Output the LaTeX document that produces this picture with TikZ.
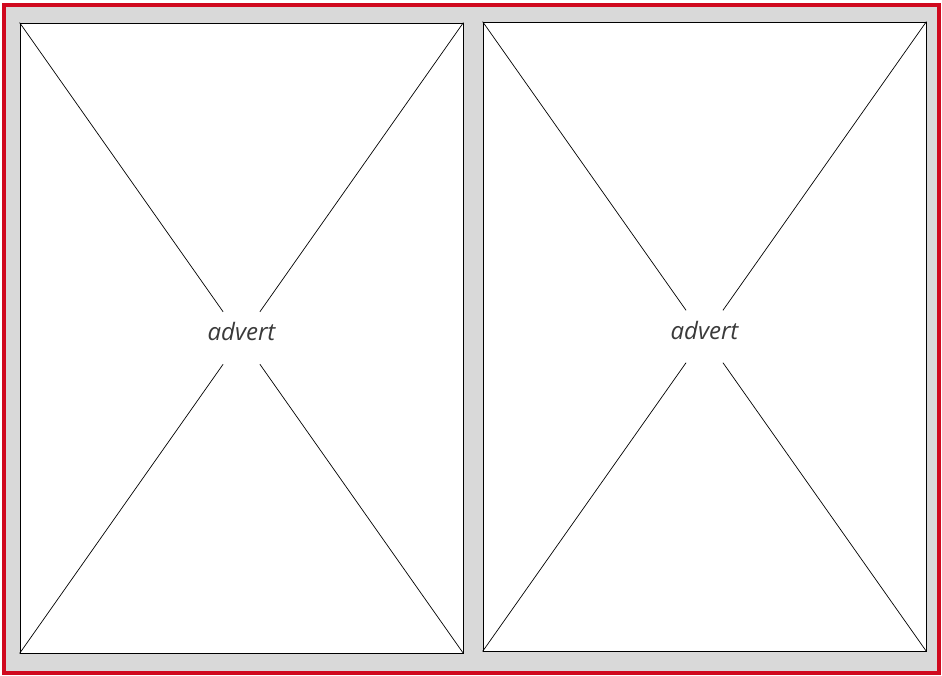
\documentclass[tikz,border=0pt]{standalone}
\usepackage{fontspec}
\setsansfont{Open Sans}
\usetikzlibrary{positioning}
\definecolor{advred}{HTML}{D0091E}
\definecolor{pagegrey}{HTML}{D9D9D9}
\definecolor{inkgrey}{HTML}{3A3A3A}

\begin{document}
\begin{tikzpicture}[x=1pt,y=-1pt,
  pagebox/.style={draw=black,fill=white,line width=.8pt,inner sep=0pt,minimum width=443pt},
  advtext/.style={text=inkgrey,font=\sffamily\itshape\fontsize{24}{26}\selectfont,minimum width=60pt,minimum height=52pt,inner sep=0pt,text height=10pt,text depth=5pt},
  cross/.style={line width=.7pt}]
\useasboundingbox (0,0) rectangle (942,675);
\draw[advred,fill=pagegrey,line width=4pt] (3.5,5) rectangle (939,673);
% two pages
\node[pagebox,minimum height=630pt] (leftpage) at (241.5,338) {};
\node[pagebox,minimum height=629pt] (rightpage) at (704.5,336.5) {};
\node[advtext] (leftad) at (leftpage.center) {advert};
\node[advtext] (rightad) at (rightpage.center) {advert};
% crosses
\draw[cross] (leftpage.north west) -- (leftad) -- (leftpage.south east);
\draw[cross] (leftpage.north east) -- (leftad) -- (leftpage.south west);
\draw[cross] (rightpage.north west) -- (rightad) -- (rightpage.south east);
\draw[cross] (rightpage.north east) -- (rightad) -- (rightpage.south west);
\end{tikzpicture}
\end{document}
